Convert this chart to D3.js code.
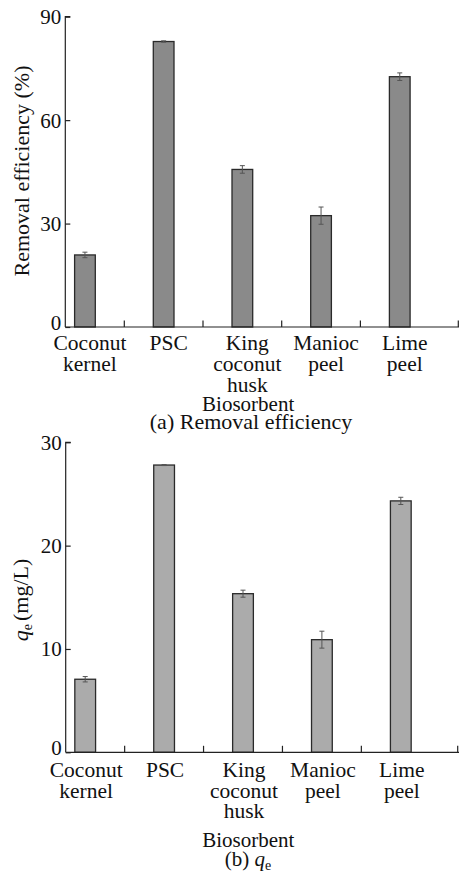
<!DOCTYPE html>
<html>
<head>
<meta charset="utf-8">
<script src="https://cdn.jsdelivr.net/npm/d3@7"></script>
<style>
  html, body { margin: 0; padding: 0; background: #fff; }
  svg { display: block; }
  svg text { font-family: "Liberation Serif", "Times New Roman", Times, "DejaVu Serif", serif; }
</style>
</head>
<body>
<div id="chart"></div>
<script>
// datos
const categories = ["Coconut kernel", "PSC", "King coconut husk", "Manioc peel", "Lime peel"];
const categoryLines = [["Coconut", "kernel"], ["PSC"], ["King", "coconut", "husk"], ["Manioc", "peel"], ["Lime", "peel"]];

const removal = [20.9, 82.8, 45.7, 32.3, 72.6];
const removalErr = [0.8, 0.2, 1.1, 2.5, 1.1];
const removalTicks = [0, 30, 60, 90];

const qe = [7.07, 27.8, 15.35, 10.9, 24.33];
const qeErr = [0.26, 0.05, 0.34, 0.82, 0.35];
const qeTicks = [0, 10, 20, 30];

const width = 459;
const height = 875;
const serif = '"Liberation Serif", "Times New Roman", Times, serif';

const svg = d3.select('#chart')
              .append('svg')
              .attr('width', width)
              .attr('height', height)
              .attr('font-family', serif);

function drawPanel(cfg) {
    const g = svg.append('g');

    const x = d3.scaleBand()
                .domain(categories)
                .range([cfg.x0, cfg.x1])
                .padding(0);

    const y = d3.scaleLinear()
                .domain([0, d3.max(cfg.ticks)])
                .range([cfg.yBottom, cfg.yTop]);

    const barW = x.bandwidth() * 0.263;
    const data = categories.map((c, i) => ({ cat: c, v: cfg.values[i], e: cfg.errors[i], lines: categoryLines[i] }));

    // barras
    g.selectAll('rect.bar')
     .data(data)
     .join('rect')
     .attr('class', 'bar')
     .attr('x', d => x(d.cat) + x.bandwidth() / 2 - barW / 2)
     .attr('y', d => y(d.v))
     .attr('width', barW)
     .attr('height', d => y(0) - y(d.v))
     .attr('fill', cfg.fill)
     .attr('stroke', '#2a2a2a')
     .attr('stroke-width', 1.3);

    // barras de error
    const err = g.selectAll('g.err')
                 .data(data)
                 .join('g')
                 .attr('class', 'err')
                 .attr('stroke', '#555')
                 .attr('stroke-width', 1);
    err.append('line')
       .attr('x1', d => x(d.cat) + x.bandwidth() / 2)
       .attr('x2', d => x(d.cat) + x.bandwidth() / 2)
       .attr('y1', d => y(d.v + d.e))
       .attr('y2', d => y(d.v - d.e));
    [1, -1].forEach(s => {
        err.append('line')
           .attr('x1', d => x(d.cat) + x.bandwidth() / 2 - 2.5)
           .attr('x2', d => x(d.cat) + x.bandwidth() / 2 + 2.5)
           .attr('y1', d => y(d.v + s * d.e))
           .attr('y2', d => y(d.v + s * d.e));
    });

    // eje y
    const yAxis = g.append('g')
                   .attr('transform', `translate(${cfg.axisX},0)`)
                   .call(d3.axisRight(y).tickValues(cfg.ticks).tickSize(5).tickFormat(''));
    yAxis.select('.domain').attr('d', `M5,${cfg.yTop}H0V${cfg.yBottom}`).attr('stroke', '#222').attr('stroke-width', 1.2);
    yAxis.selectAll('.tick line').attr('stroke', '#222').attr('stroke-width', 1.2);

    g.selectAll('text.ytick')
     .data(cfg.ticks)
     .join('text')
     .attr('class', 'ytick')
     .attr('x', cfg.axisX - 4)
     .attr('y', d => y(d) + (d === 0 ? 3 : 7.5))
     .attr('text-anchor', 'end')
     .attr('font-size', '21px')
     .attr('fill', '#111')
     .text(d => d);

    // eje x
    g.append('line')
     .attr('x1', cfg.axisX).attr('x2', width)
     .attr('y1', y(0)).attr('y2', y(0))
     .attr('stroke', '#222').attr('stroke-width', 1.2);

    const bounds = categories.slice(1).map(c => x(c)).concat([cfg.endTick]);
    g.selectAll('line.xtick')
     .data(bounds)
     .join('line')
     .attr('class', 'xtick')
     .attr('x1', d => d).attr('x2', d => d)
     .attr('y1', y(0)).attr('y2', y(0) - 6.5)
     .attr('stroke', '#222').attr('stroke-width', 1.2);

    const labels = g.selectAll('text.xlab')
                    .data(data)
                    .join('text')
                    .attr('class', 'xlab')
                    .attr('text-anchor', 'middle')
                    .attr('font-size', '21.5px')
                    .attr('fill', '#111');
    labels.selectAll('tspan')
          .data(d => d.lines.map(t => ({ t, cx: x(d.cat) + x.bandwidth() / 2 + cfg.labelDx })))
          .join('tspan')
          .attr('x', d => d.cx)
          .attr('y', (d, i) => y(0) + cfg.labelY + i * 20.8)
          .text(d => d.t);

    g.append('text')
     .attr('x', cfg.axisX + (width - cfg.axisX) / 2 - 14)
     .attr('y', y(0) + cfg.biosorbentY)
     .attr('text-anchor', 'middle')
     .attr('font-size', '21px')
     .attr('fill', '#111')
     .text('Biosorbent');

    return { g, y };
}

// (a) eficiencia de remoción
const a = drawPanel({
    values: removal, errors: removalErr, ticks: removalTicks,
    fill: '#8a8a8a', x0: 45.6, x1: 439.1, axisX: 65.3,
    yTop: 16.7, yBottom: 327, endTick: 458.3,
    labelDx: 5, labelY: 23, biosorbentY: 83.5
});
a.g.append('text')
   .attr('transform', 'translate(29,171) rotate(-90)')
   .attr('text-anchor', 'middle')
   .attr('font-size', '22px')
   .attr('fill', '#111')
   .text('Removal efficiency (%)');
a.g.append('text')
   .attr('x', 251)
   .attr('y', 429)
   .attr('text-anchor', 'middle')
   .attr('font-size', '22px')
   .attr('fill', '#111')
   .text('(a) Removal efficiency');

// (b) qe
const b = drawPanel({
    values: qe, errors: qeErr, ticks: qeTicks,
    fill: '#ababab', x0: 45.75, x1: 440.25, axisX: 65.7,
    yTop: 442.3, yBottom: 752.3, endTick: 457.7,
    labelDx: 1, labelY: 24.4, biosorbentY: 95
});
const yl = b.g.append('text')
   .attr('transform', 'translate(28,600) rotate(-90)')
   .attr('text-anchor', 'middle')
   .attr('font-size', '22px')
   .attr('fill', '#111');
yl.append('tspan').attr('font-style', 'italic').text('q');
yl.append('tspan').attr('font-size', '14px').attr('dy', 4).text('e');
yl.append('tspan').attr('dy', -4).attr('dx', 3).text('(mg/L)');

const tl = b.g.append('text')
   .attr('x', 248)
   .attr('y', 866)
   .attr('text-anchor', 'middle')
   .attr('font-size', '21px')
   .attr('fill', '#111');
tl.append('tspan').text('(b) ');
tl.append('tspan').attr('font-style', 'italic').text('q');
tl.append('tspan').attr('font-size', '14px').attr('dy', 4).text('e');
</script>
</body>
</html>
